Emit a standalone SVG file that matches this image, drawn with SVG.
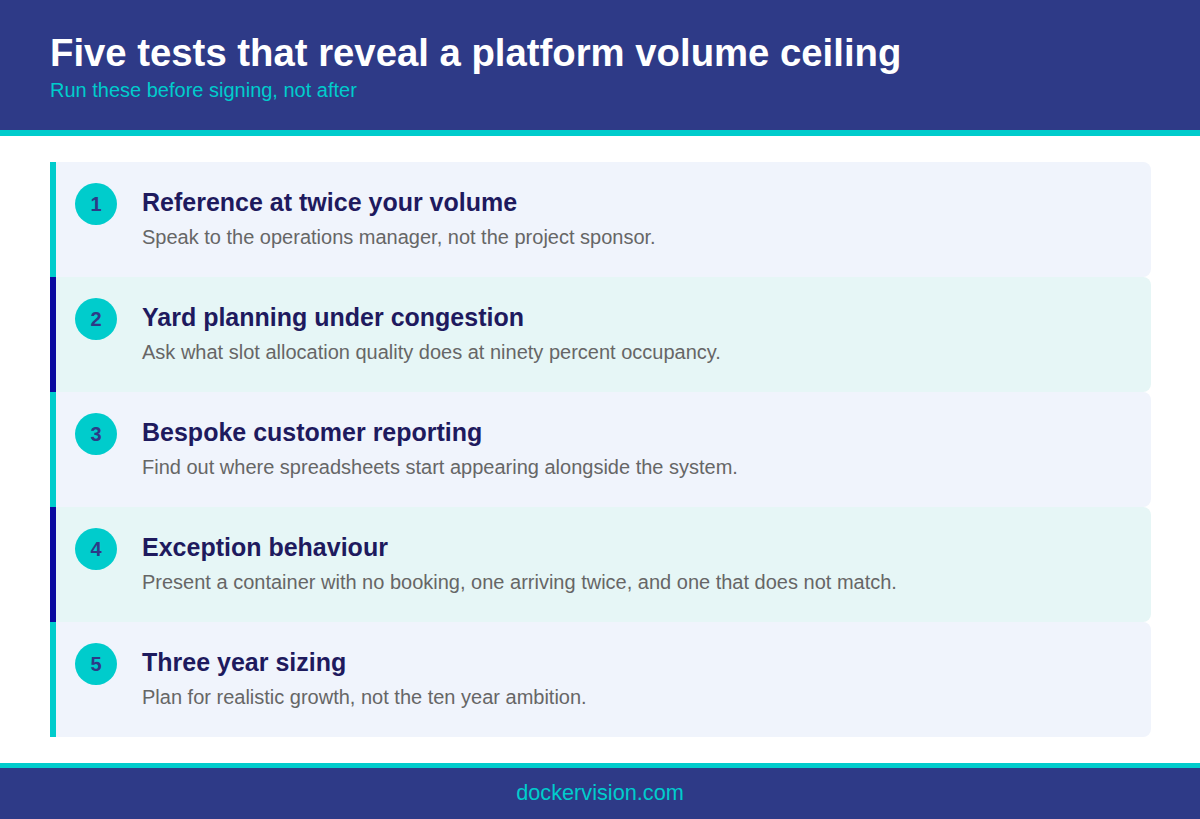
<svg xmlns="http://www.w3.org/2000/svg" width="1200" height="819" viewBox="0 0 1200 819">
<style>
.h{font-family:"Liberation Sans",Arial,sans-serif}
.t{font-family:"Liberation Sans",Arial,sans-serif;font-weight:bold;font-size:25px;fill:#1e1a5e}
.d{font-family:"Liberation Sans",Arial,sans-serif;font-size:20px;fill:#666}
.n{font-family:"Liberation Sans",Arial,sans-serif;font-weight:bold;font-size:20px;fill:#2e3a87;text-anchor:middle}
.c{fill:#00cccc}
.a{fill:#f0f4fc}.b{fill:#e6f6f6}
</style>
<rect width="1200" height="819" fill="#fff"/>
<rect width="1200" height="130" fill="#2e3a87"/>
<rect y="130" width="1200" height="6" fill="#00cccc"/>
<text x="50" y="66" class="h" font-size="38.3" font-weight="bold" fill="#fff">Five tests that reveal a platform volume ceiling</text>
<text x="50" y="97" class="h" font-size="20" fill="#00cccc">Run these before signing, not after</text>
<g id="connectors"></g>
<g id="n1"><rect x="50" y="162" width="1101" height="115" rx="8" class="a"/><rect x="50" y="162" width="6" height="115" fill="#00cccc"/><circle cx="96" cy="204" r="21" class="c"/><text x="96" y="211" class="n">1</text><text x="142" y="211" class="t">Reference at twice your volume</text><text x="142" y="244" class="d">Speak to the operations manager, not the project sponsor.</text></g>
<g id="n2"><rect x="50" y="277" width="1101" height="115" rx="8" class="b"/><rect x="50" y="277" width="6" height="115" fill="#0a0aa0"/><circle cx="96" cy="319" r="21" class="c"/><text x="96" y="326" class="n">2</text><text x="142" y="326" class="t">Yard planning under congestion</text><text x="142" y="359" class="d">Ask what slot allocation quality does at ninety percent occupancy.</text></g>
<g id="n3"><rect x="50" y="392" width="1101" height="115" rx="8" class="a"/><rect x="50" y="392" width="6" height="115" fill="#00cccc"/><circle cx="96" cy="434" r="21" class="c"/><text x="96" y="441" class="n">3</text><text x="142" y="441" class="t">Bespoke customer reporting</text><text x="142" y="474" class="d">Find out where spreadsheets start appearing alongside the system.</text></g>
<g id="n4"><rect x="50" y="507" width="1101" height="115" rx="8" class="b"/><rect x="50" y="507" width="6" height="115" fill="#0a0aa0"/><circle cx="96" cy="549" r="21" class="c"/><text x="96" y="556" class="n">4</text><text x="142" y="556" class="t">Exception behaviour</text><text x="142" y="589" class="d">Present a container with no booking, one arriving twice, and one that does not match.</text></g>
<g id="n5"><rect x="50" y="622" width="1101" height="115" rx="8" class="a"/><rect x="50" y="622" width="6" height="115" fill="#00cccc"/><circle cx="96" cy="664" r="21" class="c"/><text x="96" y="671" class="n">5</text><text x="142" y="671" class="t">Three year sizing</text><text x="142" y="704" class="d">Plan for realistic growth, not the ten year ambition.</text></g>
<rect y="763" width="1200" height="5" fill="#00cccc"/>
<rect y="768" width="1200" height="51" fill="#2e3a87"/>
<text x="600" y="800" class="h" font-size="21.7" fill="#00cccc" text-anchor="middle">dockervision.com</text>
</svg>
